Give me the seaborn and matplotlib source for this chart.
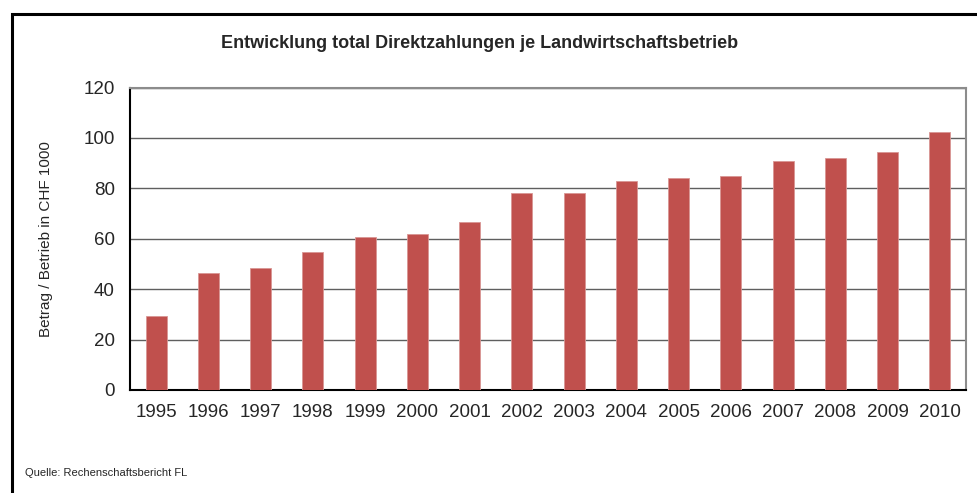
import matplotlib
matplotlib.use("Agg")
import matplotlib.pyplot as plt
from matplotlib.patches import Rectangle
import seaborn as sns
import pandas as pd

# Direktzahlungen je Betrieb (CHF 1000)
years = ["1995", "1996", "1997", "1998", "1999", "2000", "2001", "2002",
         "2003", "2004", "2005", "2006", "2007", "2008", "2009", "2010"]
betrag = [29.5, 46.3, 48.3, 54.8, 60.6, 62.0, 66.5, 78.0,
          78.2, 82.9, 84.1, 85.0, 90.7, 91.9, 94.3, 102.4]
y_ticks = [0, 20, 40, 60, 80, 100, 120]

title = "Entwicklung total Direktzahlungen je Landwirtschaftsbetrieb"
y_label = "Betrag / Betrieb in CHF 1000"
source = "Quelle: Rechenschaftsbericht FL"

df = pd.DataFrame({"Jahr": years, "Betrag": betrag})

sns.set_style("white")
plt.rcParams["font.family"] = ["Liberation Sans", "DejaVu Sans"]

fig = plt.figure(figsize=(9.78, 4.93), dpi=100)
ax = fig.add_axes([130 / 978, 1 - 390 / 493, 836 / 978, 302.5 / 493])

sns.barplot(data=df, x="Jahr", y="Betrag", color="#C0504D", width=0.4,
            saturation=1, edgecolor="#D99694", linewidth=0.6, ax=ax, zorder=3)

ax.set_xlim(-0.5, len(years) - 0.5)
ax.set_ylim(0, 120)
ax.set_yticks(y_ticks)
ax.yaxis.grid(True, color="#5f5f5f", linewidth=1.0, zorder=0)
ax.set_axisbelow(True)

# ticks between categories, like the spreadsheet original
ax.set_xticks([i - 0.5 for i in range(len(years) + 1)], minor=True)
ax.tick_params(axis="x", which="major", length=0, pad=10, labelsize=13.5)
ax.tick_params(axis="x", which="minor", length=6, width=1, color="black", direction="out")
ax.tick_params(axis="y", length=6, width=1, color="black", direction="out", pad=5, labelsize=13.5)
ax.set_xlabel("")
ax.set_ylabel(y_label, fontsize=11, labelpad=22)

for side in ["left", "bottom"]:
    ax.spines[side].set_color("black")
    ax.spines[side].set_linewidth(1.5)
for side in ["top", "right"]:
    ax.spines[side].set_visible(True)
    ax.spines[side].set_color("#8c8c8c")
    ax.spines[side].set_linewidth(1.5)

fig.text(480 / 978, 1 - 43 / 493, title, ha="center", va="center",
         fontsize=13, fontweight="bold")
fig.text(25 / 978, 1 - 473 / 493, source, ha="left", va="center", fontsize=8)

# outer frame of the chart object
frame = Rectangle((12 / 978, -0.05), 1.0, 1 - 14 / 493 + 0.05, transform=fig.transFigure,
                  fill=False, edgecolor="black", linewidth=2.2)
fig.patches.append(frame)

fig.savefig("out.png", dpi=100)
